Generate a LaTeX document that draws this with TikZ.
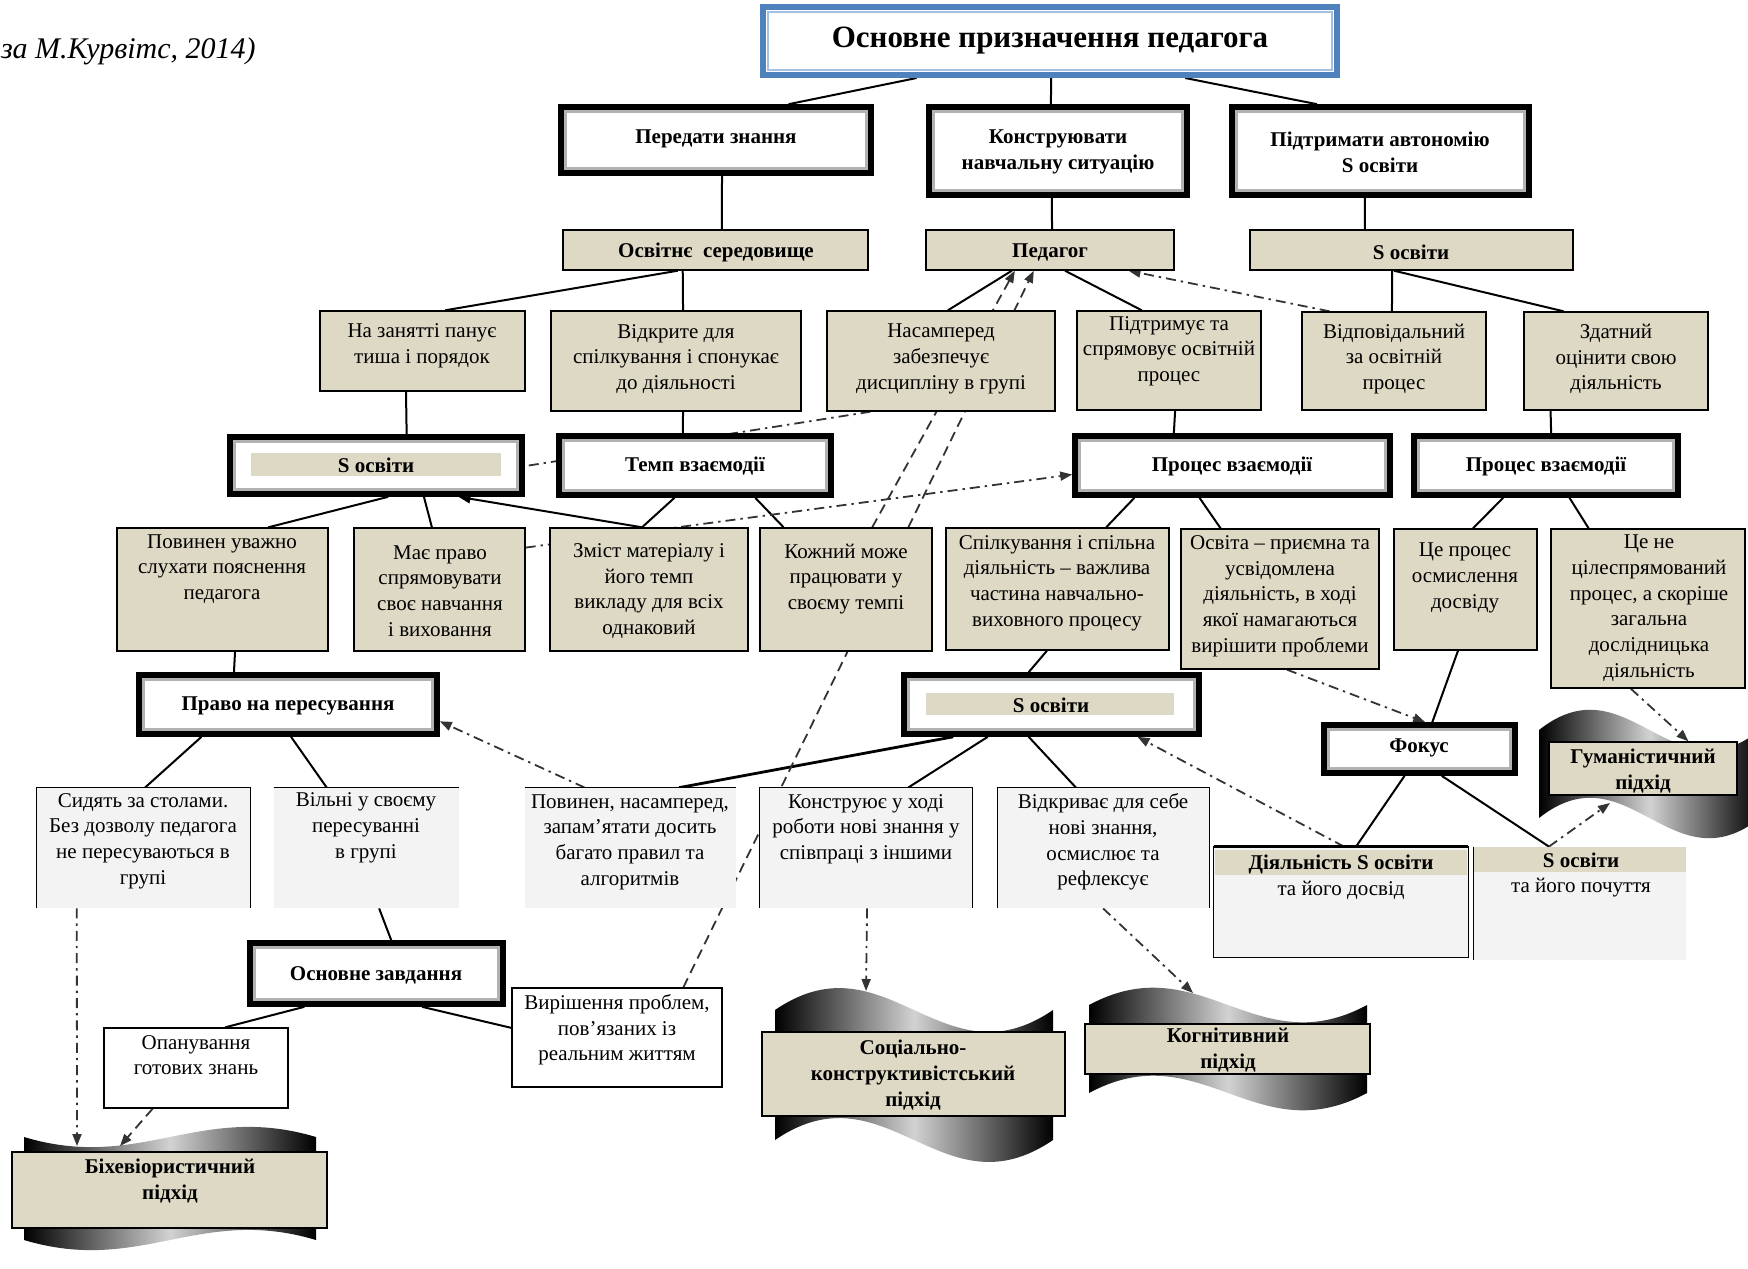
\documentclass[tikz,border=0pt]{standalone}
\usepackage{fontspec}
\setmainfont{Liberation Serif}
\usetikzlibrary{calc,fit,arrows.meta}
\definecolor{tanc}{RGB}{221,217,196}
\definecolor{lgr}{RGB}{243,243,243}
\definecolor{blu}{RGB}{79,129,189}
\definecolor{lblu}{RGB}{165,192,225}
\pgfdeclarelayer{waves}
\pgfdeclarelayer{bg}
\pgfsetlayers{waves,bg,main}
\newcommand\mybox[6]{%
  \coordinate (#1nw) at (#3,#4);
  \coordinate (#1se) at (#5,#6);
  \node[#2, fit=(#1nw)(#1se), inner sep=0pt] (#1) {};}
\newcommand\mywave[5]{%
  \shade[left color=black, right color=black, middle color=gray!35]
   (#1,#3) .. controls ({#1+0.4*(#2-#1)},{#3-(#5)}) and ({#1+0.6*(#2-#1)},{#3+(#5)}) .. (#2,#3)
   -- (#2,#4) .. controls ({#1+0.6*(#2-#1)},{#4+(#5)}) and ({#1+0.4*(#2-#1)},{#4-(#5)}) .. (#1,#4) -- cycle;}
\begin{document}
\begin{tikzpicture}[x=0.5pt,y=-0.5pt,
  tanbox/.style={fill=tanc, draw=black, line width=0.7pt},
  whitebox/.style={fill=white, draw=black, line width=0.7pt},
  openbox/.style={fill=lgr},
  dblbox/.style={fill=white, draw=black, line width=2.8pt,
    path picture={\draw[gray!60, line width=1.3pt] ([shift={(2.3pt,-2.3pt)}]path picture bounding box.north west) rectangle ([shift={(-2.3pt,2.3pt)}]path picture bounding box.south east);}},
  titlebox/.style={fill=white, draw=blu, line width=3pt,
    path picture={\draw[lblu, line width=1.2pt] ([shift={(2.6pt,-2.6pt)}]path picture bounding box.north west) rectangle ([shift={(-2.6pt,2.6pt)}]path picture bounding box.south east);}},
  thinb/.style={draw=black, line width=0.7pt},
  ln/.style={draw=black, line width=1pt},
  ddot/.style={draw=black!80, line width=0.9pt, dash pattern=on 5pt off 2.5pt on 1.2pt off 2.5pt},
  dsh/.style={draw=black!80, line width=0.9pt, dash pattern=on 5pt off 3pt},
  arrowend/.style={-{Triangle[length=6pt,width=4.5pt]}},
  tx/.style={align=center, inner sep=0pt, font=\fontsize{10.5}{12.85}\selectfont},
  bx/.style={align=center, inner sep=0pt, font=\fontsize{10.5}{12.85}\selectfont\bfseries},
  ttl/.style={align=center, inner sep=0pt, font=\fontsize{15.5}{18}\selectfont\bfseries},
  captxt/.style={inner sep=0pt, anchor=east, font=\fontsize{15}{17}\selectfont\itshape}]
\useasboundingbox (0,0) rectangle (1748,1268);

% ---------- wave banners (lowest layer)
\begin{pgfonlayer}{waves}
  \mywave{24}{316}{1137}{1240}{-35}
  \mywave{775}{1053}{1010}{1140}{76}
  \mywave{1089}{1367}{1005}{1093}{60}
  \begin{scope}
    \clip (0,0) rectangle (1748,1268);
    \mywave{1539}{1760}{730}{818}{70}
  \end{scope}
\end{pgfonlayer}

% ---------- boxes
\mybox{title}{titlebox}{763}{7}{1337}{75}
\mybox{a1}{dblbox}{561}{107}{871}{173}
\mybox{a2}{dblbox}{929}{107}{1187}{195}
\mybox{a3}{dblbox}{1232}{107}{1529}{195}
\mybox{b1}{tanbox}{563}{230}{868}{270}
\mybox{b2}{tanbox}{926}{230}{1174}{270}
\mybox{b3}{tanbox}{1250}{230}{1573}{270}
\mybox{c1}{tanbox}{320}{311}{525}{391}
\mybox{c2}{tanbox}{551}{311}{801}{411}
\mybox{c3}{tanbox}{827}{311}{1055}{411}
\mybox{c4}{tanbox}{1077}{311}{1261}{410}
\mybox{c5}{tanbox}{1302}{312}{1486}{410}
\mybox{c6}{tanbox}{1524}{312}{1708}{410}
\mybox{d1}{dblbox}{230}{437}{522}{494}
\mybox{d2}{dblbox}{559}{436}{831}{495}
\mybox{d3}{dblbox}{1075}{436}{1390}{495}
\mybox{d4}{dblbox}{1414}{436}{1678}{495}
\mybox{e1}{tanbox}{117}{528}{328}{651}
\mybox{e2}{tanbox}{354}{528}{525}{651}
\mybox{e3}{tanbox}{550}{528}{748}{651}
\mybox{e4}{tanbox}{760}{528}{932}{651}
\mybox{e5}{tanbox}{946}{528}{1169}{650}
\mybox{e6}{tanbox}{1181}{529}{1379}{669}
\mybox{e7}{tanbox}{1394}{529}{1537}{650}
\mybox{e8}{tanbox}{1551}{529}{1745}{688}
\mybox{f1}{dblbox}{139}{675}{437}{734}
\mybox{f2}{dblbox}{904}{675}{1199}{734}
\mybox{f3}{dblbox}{1324}{725}{1515}{773}
\mybox{g1}{openbox}{37}{788}{250}{908}
\mybox{g2}{openbox}{274}{788}{459}{908}
\mybox{g3}{openbox}{525}{788}{736}{908}
\mybox{g4}{openbox}{760}{788}{972}{908}
\mybox{g5}{openbox}{998}{788}{1209}{908}
\mybox{g6}{openbox}{1214}{847}{1468}{957}
\mybox{g7}{openbox}{1474}{847}{1686}{960}
\mybox{h1}{dblbox}{250}{943}{503}{1004}
\mybox{h2}{whitebox}{104}{1028}{288}{1108}
\mybox{h3}{whitebox}{512}{988}{722}{1087}
\mybox{i1}{tanbox}{12}{1152}{327}{1228}
\mybox{i2}{tanbox}{762}{1032}{1065}{1116}
\mybox{i3}{tanbox}{1085}{1024}{1370}{1074}
\mybox{i4}{tanbox}{1549}{742}{1737}{795}

% inner bars and stripes
\fill[tanc] (251,453) rectangle (501,476);
\fill[tanc] (926,693) rectangle (1174,715);
\fill[tanc] (1215,850) rectangle (1467,875);
\fill[tanc] (1474,847) rectangle (1686,872);

% partial borders of the light boxes
\draw[thinb] (g1.south west) -- (g1.north west) -- (g1.north east) -- (g1.south east);
\draw[thinb] (g2.north west) -- (g2.north east);
\draw[thinb] (g3.north west) -- (g3.north east);
\draw[thinb] (g4.south west) -- (g4.north west) -- (g4.north east) -- (g4.south east);
\draw[thinb] (g5.south west) -- (g5.north west) -- (g5.north east) -- (g5.south east);
\draw[thinb] (g6.north west) rectangle (g6.south east);
\draw[line width=1.6pt] (g6.north west) -- (g6.north east);
\draw[thinb] (g7.north west) -- (g7.south west);

% arrow end points on the wave banners
\coordinate (i1a) at (77,1146);
\coordinate (i1b) at (120,1146);
\coordinate (i2a) at (866,991);
\coordinate (i3a) at (1193,993);
\coordinate (i4b) at (1610,803);

% ---------- connectors
\begin{pgfonlayer}{bg}
\draw[ln] ($(title.south west)!0.27!(title.south east)$) -- ($(a1.north west)!0.73!(a1.north east)$);
\draw[ln] ($(title.south west)!0.502!(title.south east)$) -- ($(a2.north west)!0.473!(a2.north east)$);
\draw[ln] ($(title.south west)!0.733!(title.south east)$) -- ($(a3.north west)!0.29!(a3.north east)$);
\draw[ln] ($(a1.south west)!0.519!(a1.south east)$) -- ($(b1.north west)!0.521!(b1.north east)$);
\draw[ln] ($(a2.south west)!0.477!(a2.south east)$) -- ($(b2.north west)!0.508!(b2.north east)$);
\draw[ln] ($(a3.south west)!0.448!(a3.south east)$) -- ($(b3.north west)!0.356!(b3.north east)$);
\draw[ln] ($(b1.south west)!0.377!(b1.south east)$) -- ($(c1.north west)!0.61!(c1.north east)$);
\draw[ln] ($(b1.south west)!0.393!(b1.south east)$) -- ($(c2.north west)!0.528!(c2.north east)$);
\draw[ln] ($(b2.south west)!0.347!(b2.south east)$) -- ($(c3.north west)!0.53!(c3.north east)$);
\draw[ln] ($(b2.south west)!0.56!(b2.south east)$) -- ($(c4.north west)!0.353!(c4.north east)$);
\draw[ln] ($(b3.south west)!0.44!(b3.south east)$) -- ($(c5.north west)!0.489!(c5.north east)$);
\draw[ln] ($(b3.south west)!0.446!(b3.south east)$) -- ($(c6.north west)!0.217!(c6.north east)$);
\draw[ln] ($(c1.south west)!0.42!(c1.south east)$) -- ($(d1.north west)!0.603!(d1.north east)$);
\draw[ln] ($(c2.south west)!0.528!(c2.south east)$) -- ($(d2.north west)!0.456!(d2.north east)$);
\draw[ln] ($(c4.south west)!0.533!(c4.south east)$) -- ($(d3.north west)!0.317!(d3.north east)$);
\draw[ln] ($(c6.south west)!0.147!(c6.south east)$) -- ($(d4.north west)!0.519!(d4.north east)$);
\draw[ln] ($(d1.south west)!0.541!(d1.south east)$) -- ($(e1.north west)!0.716!(e1.north east)$);
\draw[ln] ($(d1.south west)!0.661!(d1.south east)$) -- ($(e2.north west)!0.456!(e2.north east)$);
\draw[ln] ($(d2.south west)!0.426!(d2.south east)$) -- ($(e3.north west)!0.465!(e3.north east)$);
\draw[ln] ($(d2.south west)!0.717!(d2.south east)$) -- ($(e4.north west)!0.14!(e4.north east)$);
\draw[ln] ($(d3.south west)!0.194!(d3.south east)$) -- ($(e5.north west)!0.717!(e5.north east)$);
\draw[ln] ($(d3.south west)!0.397!(d3.south east)$) -- ($(e6.north west)!0.202!(e6.north east)$);
\draw[ln] ($(d4.south west)!0.341!(d4.south east)$) -- ($(e7.north west)!0.552!(e7.north east)$);
\draw[ln] ($(d4.south west)!0.587!(d4.south east)$) -- ($(e8.north west)!0.196!(e8.north east)$);
\draw[ln] ($(e1.south west)!0.559!(e1.south east)$) -- ($(f1.north west)!0.322!(f1.north east)$);
\draw[ln] ($(e5.south west)!0.453!(e5.south east)$) -- ($(f2.north west)!0.424!(f2.north east)$);
\draw[ln] ($(e7.south west)!0.448!(e7.south east)$) -- ($(f3.north west)!0.565!(f3.north east)$);
\draw[ln] ($(f1.south west)!0.215!(f1.south east)$) -- ($(g1.north west)!0.507!(g1.north east)$);
\draw[ln] ($(f1.south west)!0.51!(f1.south east)$) -- ($(g2.north west)!0.286!(g2.north east)$);
\draw[ln, line width=1.4pt] ($(f2.south west)!0.173!(f2.south east)$) -- ($(g3.north west)!0.73!(g3.north east)$);
\draw[ln] ($(f2.south west)!0.288!(f2.south east)$) -- ($(g4.north west)!0.698!(g4.north east)$);
\draw[ln] ($(f2.south west)!0.424!(f2.south east)$) -- ($(g5.north west)!0.37!(g5.north east)$);
\draw[ln] ($(f3.south west)!0.424!(f3.south east)$) -- ($(g6.north west)!0.559!(g6.north east)$);
\draw[ln] ($(f3.south west)!0.613!(f3.south east)$) -- ($(g7.north west)!0.354!(g7.north east)$);
\draw[ln] ($(g2.south west)!0.568!(g2.south east)$) -- ($(h1.north west)!0.557!(h1.north east)$);
\draw[ln] ($(h1.south west)!0.221!(h1.south east)$) -- ($(h2.north west)!0.658!(h2.north east)$);
\draw[ln] ($(h1.south west)!0.676!(h1.south east)$) -- ($(h3.north west)!0.404!(h3.south west)$);
\draw[ln, arrowend] ($(e3.north west)!0.465!(e3.north east)$) -- ($(d1.south west)!0.777!(d1.south east)$);
% dash-dot and dashed links
\draw[ddot] ($(c3.south west)!0.193!(c3.south east)$) -- ($(d1.north east)!0.51!(d1.south east)$);
\draw[ddot, arrowend] ($(e2.north east)!0.163!(e2.south east)$) -- ($(d3.north west)!0.64!(d3.south west)$);
\draw[dsh, arrowend] ($(e4.north west)!0.651!(e4.north east)$) -- ($(b2.south west)!0.359!(b2.south east)$);
\draw[dsh, arrowend] ($(h3.north west)!0.814!(h3.north east)$) -- ($(b2.south west)!0.435!(b2.south east)$);
\draw[ddot, arrowend] ($(c5.north west)!0.152!(c5.north east)$) -- ($(b2.south west)!0.815!(b2.south east)$);
\draw[ddot, arrowend] ($(g3.north west)!0.284!(g3.north east)$) -- ($(f1.north east)!0.76!(f1.south east)$);
\draw[ddot, arrowend] ($(g6.north west)!0.512!(g6.north east)$) -- ($(f2.south west)!0.786!(f2.south east)$);
\draw[ddot, arrowend] ($(e6.south west)!0.535!(e6.south east)$) -- ($(f3.north west)!0.529!(f3.north east)$);
\draw[ddot, arrowend] ($(e8.south west)!0.412!(e8.south east)$) -- ($(i4.north west)!0.74!(i4.north east)$);
\draw[ddot, arrowend] ($(g7.north west)!0.354!(g7.north east)$) -- (i4b);
\draw[ddot, arrowend] ($(g1.south west)!0.188!(g1.south east)$) -- (i1a);
\draw[dsh, arrowend] ($(h2.south west)!0.266!(h2.south east)$) -- (i1b);
\draw[ddot, arrowend] ($(g4.south west)!0.505!(g4.south east)$) -- (i2a);
\draw[ddot, arrowend] ($(g5.south west)!0.498!(g5.south east)$) -- (i3a);
\end{pgfonlayer}

% ---------- texts
\node[captxt] (capt) at (256,51) {за М.Курвітс, 2014)};
\node[ttl] (titlet) at (1050,41) {Основне призначення педагога};
\node[bx] (a1t) at (716,139) {Передати знання};
\node[bx] (a2t) at (1058,152) {Конструювати\\навчальну ситуацію};
\node[bx] (a3t) at (1380,152) {Підтримати автономію\\S освіти};
\node[bx] (b1t) at (716,252) {Освітнє\ \ середовище};
\node[bx] (b2t) at (1050,252) {Педагог};
\node[bx] (b3t) at (1411,252) {S освіти};
\node[tx] (c1t) at (422,346) {На занятті панує\\тиша і порядок};
\node[tx] (c2t) at (676,359) {Відкрите для\\спілкування і спонукає\\до діяльності};
\node[tx] (c3t) at (941,359) {Насамперед\\забезпечує\\дисципліну в групі};
\node[tx] (c4t) at (1169,351) {Підтримує та\\спрямовує освітній\\процес};
\node[tx] (c5t) at (1394,359) {Відповідальний\\за освітній\\процес};
\node[tx] (c6t) at (1616,359) {Здатний\\оцінити свою\\діяльність};
\node[bx] (d1t) at (376,465) {S освіти};
\node[bx] (d2t) at (695,466) {Темп взаємодії};
\node[bx] (d3t) at (1232,466) {Процес взаємодії};
\node[bx] (d4t) at (1546,466) {Процес взаємодії};
\node[tx] (e1t) at (222,569) {Повинен уважно\\слухати пояснення\\педагога};
\node[tx] (e2t) at (440,591) {Має право\\спрямовувати\\своє навчання\\і виховання};
\node[tx] (e3t) at (649,591) {Зміст матеріалу і\\його темп\\викладу для всіх\\однаковий};
\node[tx] (e4t) at (846,579) {Кожний може\\працювати у\\своєму темпі};
\node[tx] (e5t) at (1057,583) {Спілкування і спільна\\діяльність – важлива\\частина навчально-\\виховного процесу};
\node[tx] (e6t) at (1280,596) {Освіта – приємна та\\усвідомлена\\діяльність, в ході\\якої намагаються\\вирішити проблеми};
\node[tx] (e7t) at (1465,578) {Це процес\\осмислення\\досвіду};
\node[tx] (e8t) at (1649,608) {Це не\\цілеспрямований\\процес, а скоріше\\загальна\\дослідницька\\діяльність};
\node[bx] (f1t) at (288,706) {Право на пересування};
\node[bx] (f2t) at (1051,705) {S освіти};
\node[bx] (f3t) at (1419,748) {Фокус};
\node[tx] (g1t) at (143,841) {Сидять за столами.\\Без дозволу педагога\\не пересуваються в\\групі};
\node[tx] (g2t) at (366,828) {Вільні у своєму\\пересуванні\\в групі};
\node[tx] (g3t) at (630,842) {Повинен, насамперед,\\запам’ятати досить\\багато правил та\\алгоритмів};
\node[tx] (g4t) at (866,829) {Конструює у ході\\роботи нові знання у\\співпраці з іншими};
\node[tx] (g5t) at (1103,842) {Відкриває для себе\\нові знання,\\осмислює та\\рефлексує};
\node[tx] (g6t) at (1341,877) {\textbf{Діяльність S освіти}\\та його досвід};
\node[tx] (g7t) at (1581,875) {\textbf{S освіти}\\та його почуття};
\node[bx] (h1t) at (376,975) {Основне завдання};
\node[tx] (h2t) at (196,1055) {Опанування\\готових знань};
\node[tx] (h3t) at (617,1030) {Вирішення проблем,\\пов’язаних із\\реальним життям};
\node[bx] (i1t) at (170,1181) {Біхевіористичний\\підхід};
\node[bx] (i2t) at (913,1075) {Соціально-\\конструктивістський\\підхід};
\node[bx] (i3t) at (1228,1050) {Когнітивний\\підхід};
\node[bx] (i4t) at (1643,771) {Гуманістичний\\підхід};
\end{tikzpicture}
\end{document}
